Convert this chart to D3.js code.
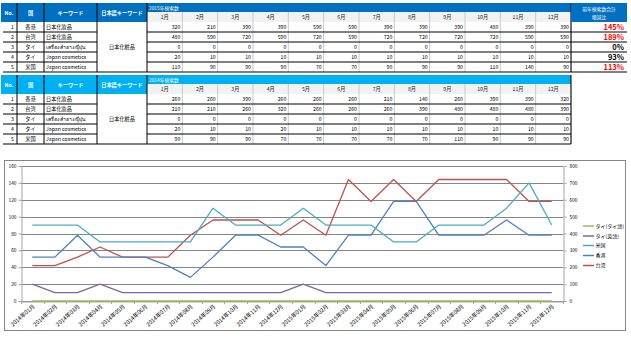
<!DOCTYPE html>
<html><head><meta charset="utf-8">
<script src="https://cdn.jsdelivr.net/npm/d3@7"></script>
<style>
html,body{margin:0;padding:0;background:#fff;}
svg{display:block;font-family:"Noto Sans CJK JP","Noto Sans",sans-serif;}
</style></head>
<body>
<svg id="c" width="631" height="339"></svg>
<script>
// ---------- table data ----------
const monthsHead = ["1月","2月","3月","4月","5月","6月","7月","8月","9月","10月","11月","12月"];
const rowNo = [1,2,3,4,5];
const countries = ["香港","台湾","タイ","タイ","米国"];
const keywords = ["日本化妝品","日本化妝品","เครื่องสำอางญี่ปุ่น","Japan cosmetics","Japan cosmetics"];
const jpKeyword = "日本化粧品";
const headers = ["No.","国","キーワード","日本語キーワード"];
const title2015 = "2015年検索数";
const title2014 = "2014年検索数";
const ratioHead = ["前年検索数合計","増減比"];

const t2015HK = [320,210,390,390,590,590,390,390,390,480,390,390];
const t2015TW = [480,590,720,590,720,590,720,720,720,720,590,590];
const t2015TH = [0,0,0,0,0,0,0,0,0,0,0,0];
const t2015THen = [20,10,10,10,10,10,10,10,10,10,10,10];
const t2015US = [110,90,90,90,70,70,90,90,90,110,140,90];

const t2014HK = [260,260,390,260,260,260,210,140,260,390,390,320];
const t2014TW = [210,210,260,320,260,260,260,390,480,480,480,390];
const t2014TH = [0,0,0,0,0,0,0,0,0,0,0,0];
const t2014THen = [20,10,10,20,10,10,10,10,10,10,10,10];
const t2014US = [90,90,90,70,70,70,70,70,110,90,90,90];

const ratios = ["145%","189%","0%","93%","113%"];
const ratioRed = [true,true,false,false,true];

// ---------- chart data ----------
const chartMonths = ["2014年01月","2014年02月","2014年03月","2014年04月","2014年05月","2014年06月",
  "2014年07月","2014年08月","2014年09月","2014年10月","2014年11月","2014年12月",
  "2015年01月","2015年02月","2015年03月","2015年04月","2015年05月","2015年06月",
  "2015年07月","2015年08月","2015年09月","2015年10月","2015年11月","2015年12月"];
const seriesNames = ["タイ(タイ語)","タイ(英語)","米国","香港","台湾"];
const cThaiTh = [0,0,0,0,0,0,0,0,0,0,0,0, 0,0,0,0,0,0,0,0,0,0,0,0];
const cThaiEn = [20,10,10,20,10,10,10,10,10,10,10,10, 20,10,10,10,10,10,10,10,10,10,10,10];
const cUS = [90,90,90,70,70,70,70,70,110,90,90,90, 110,90,90,90,70,70,90,90,90,110,140,90];
const cHK = [260,260,390,260,260,260,210,140,260,390,390,320, 320,210,390,390,590,590,390,390,390,480,390,390];
const cTW = [210,210,260,320,260,260,260,390,480,480,480,390, 480,390,720,590,720,590,720,720,720,720,590,590];
const leftTicks = [0,20,40,60,80,100,120,140,160];
const rightTicks = [0,100,200,300,400,500,600,700,800];

const svg = d3.select("#c");

// ---------- tables ----------
const colEdges = [1,17,44,97,147];
const mStart = 147, mEnd = 571, pctEnd = 627;
const mx = d3.scaleBand().domain(monthsHead).range([mStart,mEnd]);
const FS = 5.2;

function drawTable(top, title, headColor, rows, withRatio){
  const g = svg.append("g");
  const hTop = top, hMid = top+9, hBot = top+19;
  const rowH = 10;
  g.append("rect").attr("x",colEdges[0]).attr("y",hTop).attr("width",mStart-colEdges[0]).attr("height",hBot-hTop).attr("fill",headColor);
  g.append("rect").attr("x",mStart).attr("y",hTop).attr("width",mEnd-mStart).attr("height",hMid-hTop).attr("fill",headColor);
  g.append("rect").attr("x",mStart).attr("y",hMid).attr("width",mEnd-mStart).attr("height",hBot-hMid).attr("fill","#F2F2F2");
  headers.forEach((h,i)=>{
    g.append("text").attr("x",(colEdges[i]+colEdges[i+1])/2).attr("y",(hTop+hBot)/2+2)
      .attr("text-anchor","middle").attr("font-size",FS).attr("fill","#fff").attr("font-weight","bold").text(h);
  });
  for(let i=1;i<colEdges.length;i++){
    g.append("line").attr("x1",colEdges[i]).attr("x2",colEdges[i]).attr("y1",hTop).attr("y2",hBot+rowH*5).attr("stroke","#000").attr("stroke-width",1);
  }
  g.append("text").attr("x",mStart+2).attr("y",hTop+6.5).attr("font-size",4.8).attr("fill","#fff").text(title);
  monthsHead.forEach(m=>{
    g.append("text").attr("x",mx(m)+mx.bandwidth()/2).attr("y",hMid+7).attr("text-anchor","middle").attr("font-size",FS).attr("fill","#222").text(m);
    g.append("line").attr("x1",mx(m)+mx.bandwidth()).attr("x2",mx(m)+mx.bandwidth()).attr("y1",hMid).attr("y2",hBot+rowH*5)
      .attr("stroke","#C8C8C8").attr("stroke-width",1);
  });
  g.append("line").attr("x1",mEnd).attr("x2",mEnd).attr("y1",hTop).attr("y2",hBot+rowH*5).attr("stroke","#000").attr("stroke-width",1);
  if(withRatio){
    g.append("rect").attr("x",mEnd).attr("y",hTop).attr("width",pctEnd-mEnd).attr("height",hBot-hTop).attr("fill",headColor);
    g.append("text").attr("x",(mEnd+pctEnd)/2).attr("y",hTop+7.5).attr("text-anchor","middle").attr("font-size",4.8).attr("fill","#fff").text(ratioHead[0]);
    g.append("text").attr("x",(mEnd+pctEnd)/2).attr("y",hTop+15.5).attr("text-anchor","middle").attr("font-size",4.8).attr("fill","#fff").text(ratioHead[1]);
  }
  rows.forEach((r,i)=>{
    const y0 = hBot + i*rowH;
    g.append("text").attr("x",colEdges[1]-3).attr("y",y0+7.3).attr("text-anchor","end").attr("font-size",FS).text(rowNo[i]);
    g.append("text").attr("x",(colEdges[1]+colEdges[2])/2).attr("y",y0+7.3).attr("text-anchor","middle").attr("font-size",FS).text(countries[i]);
    g.append("text").attr("x",colEdges[2]+2).attr("y",y0+7.3).attr("font-size",FS).text(keywords[i]);
    r.forEach((v,j)=>{
      g.append("text").attr("x",mx(monthsHead[j])+mx.bandwidth()-2).attr("y",y0+7.3).attr("text-anchor","end").attr("font-size",FS).text(v);
    });
    if(withRatio){
      g.append("text").attr("x",pctEnd-3).attr("y",y0+8).attr("text-anchor","end").attr("font-size",7.5).attr("font-weight","bold")
        .attr("fill",ratioRed[i]?"#FF0000":"#000").text(ratios[i]);
    }
    const xr = withRatio ? pctEnd : mEnd;
    g.append("line").attr("x1",colEdges[0]+2).attr("x2",colEdges[3]).attr("y1",y0+rowH).attr("y2",y0+rowH).attr("stroke","#000").attr("stroke-width",1);
    g.append("line").attr("x1",colEdges[4]).attr("x2",xr).attr("y1",y0+rowH).attr("y2",y0+rowH).attr("stroke","#000").attr("stroke-width",1);
  });
  g.append("line").attr("x1",colEdges[3]).attr("x2",colEdges[4]).attr("y1",hBot+rowH*5).attr("y2",hBot+rowH*5).attr("stroke","#000").attr("stroke-width",1);
  g.append("text").attr("x",(colEdges[3]+colEdges[4])/2).attr("y",hBot+rowH*2.5+2).attr("text-anchor","middle").attr("font-size",FS).text(jpKeyword);
}
drawTable(3, title2015, "#0070C0", [t2015HK,t2015TW,t2015TH,t2015THen,t2015US], true);
drawTable(75, title2014, "#00B0F0", [t2014HK,t2014TW,t2014TH,t2014THen,t2014US], false);

// ---------- chart ----------
const cg = svg.append("g");
cg.append("rect").attr("x",4.5).attr("y",160.5).attr("width",621).attr("height",170).attr("fill","#fff").attr("stroke","#868686").attr("stroke-width",1);

const L = 21, R = 563, T = 166, B = 301;
const x = d3.scaleBand().domain(chartMonths).range([L,R]);
const cx = d => x(d)+x.bandwidth()/2;
const yL = d3.scaleLinear().domain([0,160]).range([B,T]);
const yR = d3.scaleLinear().domain([0,800]).range([B,T]);

cg.append("g").selectAll("line").data(leftTicks).join("line")
  .attr("x1",L).attr("x2",R).attr("y1",d=>Math.round(yL(d))+0.5).attr("y2",d=>Math.round(yL(d))+0.5)
  .attr("stroke","#868686").attr("stroke-width",1);

const la = cg.append("g").attr("transform",`translate(${L+0.5},0)`)
  .call(d3.axisLeft(yL).tickValues(leftTicks).tickSize(3).tickPadding(2));
const ra = cg.append("g").attr("transform",`translate(${R+0.5},0)`)
  .call(d3.axisRight(yR).tickValues(rightTicks).tickSize(3).tickPadding(3));
[la,ra].forEach(a=>{
  a.select(".domain").attr("stroke","#A6A6A6");
  a.selectAll(".tick line").attr("stroke","#A6A6A6");
  a.selectAll("text").attr("font-size",4.8).attr("fill","#000").attr("font-family","Noto Sans CJK JP");
});
const ba = cg.append("g").attr("transform",`translate(0,${B+0.5})`)
  .call(d3.axisBottom(x).tickSize(0).tickPadding(0));
ba.select(".domain").attr("stroke","#A6A6A6");
ba.selectAll(".tick text").attr("font-size",5.6).attr("fill","#000")
  .attr("text-anchor","end").attr("font-family","Noto Sans CJK JP")
  .attr("transform","translate(1.5,4) rotate(-42)").attr("dy","0.35em").attr("y",0);
cg.append("g").selectAll("line").data(chartMonths.concat([null])).join("line")
  .attr("x1",(d,i)=> i<chartMonths.length ? Math.round(x(d))+0.5 : R+0.5)
  .attr("x2",(d,i)=> i<chartMonths.length ? Math.round(x(d))+0.5 : R+0.5)
  .attr("y1",B).attr("y2",B+3).attr("stroke","#A6A6A6");

const colors = ["#9BBB59","#8064A2","#4BACC6","#4F81BD","#C0504D"];
const seriesData = [cThaiTh,cThaiEn,cUS,cHK,cTW];
const seriesAxis = [yL,yL,yL,yR,yR];
const drawOrder = [4,3,2,1,0];
drawOrder.forEach(k=>{
  const line = d3.line().x((v,i)=>cx(chartMonths[i])).y(v=>seriesAxis[k](v));
  cg.append("path").datum(seriesData[k]).attr("d",line).attr("fill","none")
    .attr("stroke",colors[k]).attr("stroke-width",1.3).attr("stroke-linejoin","round");
});

const legY = [226,236,245.5,255.5,265.5];
seriesNames.forEach((n,i)=>{
  cg.append("line").attr("x1",583).attr("x2",594).attr("y1",legY[i]).attr("y2",legY[i]).attr("stroke",colors[i]).attr("stroke-width",1.5);
  cg.append("text").attr("x",595.5).attr("y",legY[i]+1.8).attr("font-size",5).attr("fill","#000").text(n);
});
</script>
</body></html>
